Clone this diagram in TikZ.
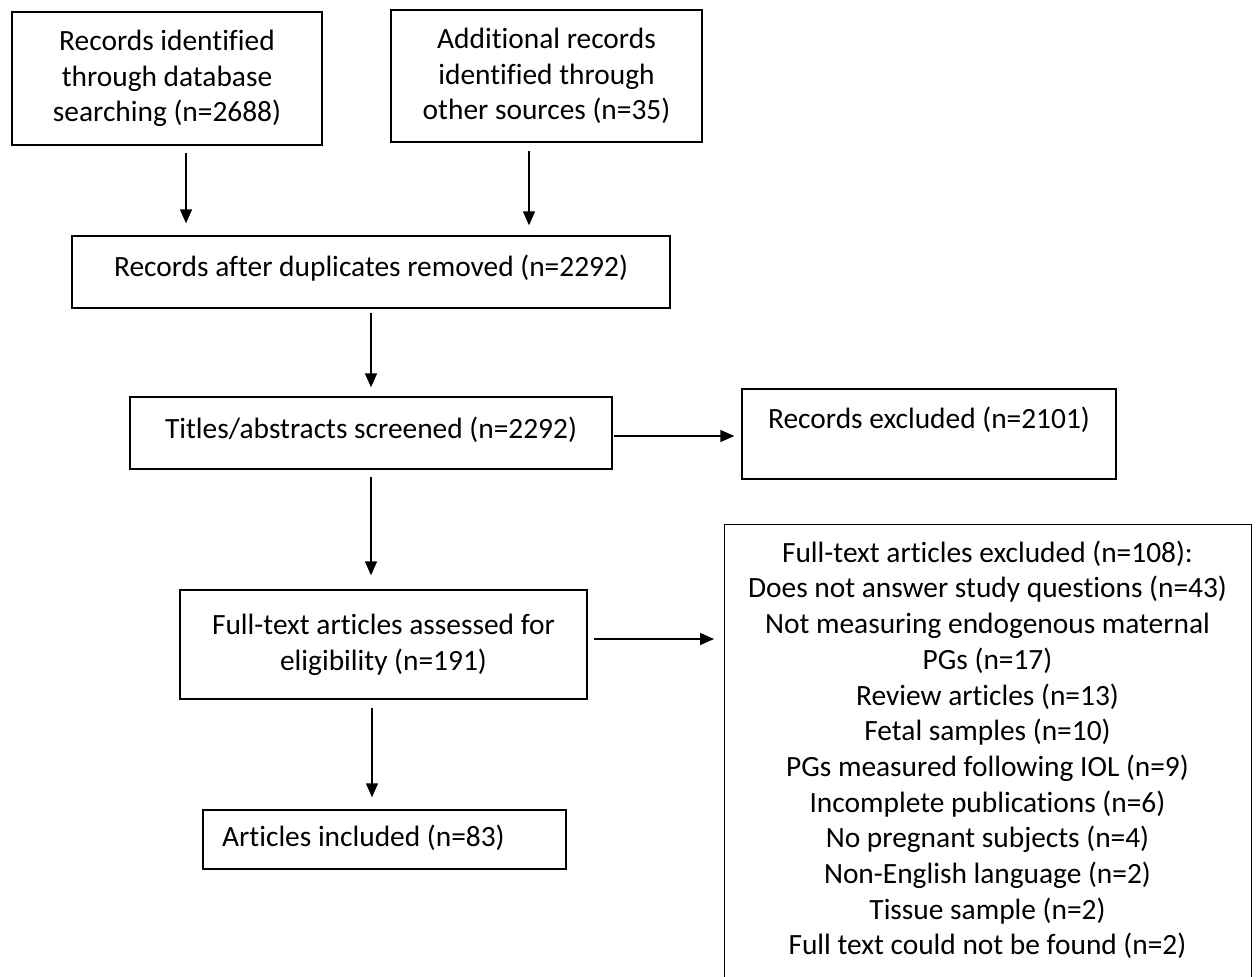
\documentclass[tikz,border=0pt]{standalone}
\usepackage{fontspec}
\setmainfont[Ligatures={NoCommon}]{Carlito}
\usetikzlibrary{arrows.meta,positioning}
\begin{document}
\begin{tikzpicture}[x=1pt,y=-1pt,
  box/.style={draw=black,line width=1.4pt,inner sep=0pt,align=center},
  txt/.style={inner sep=0pt,align=center},
  arr/.style={line width=1.4pt,-{Triangle[length=14pt,width=12pt]}},
  every node/.style={font=\fontsize{29.4}{35.7}\selectfont}]
\useasboundingbox (0,0) rectangle (1256,977);
\clip (0,0) rectangle (1256,977);
\node[box,minimum width=310pt,minimum height=133pt] (A) at (167,78.5) {Records identified\\through database\\searching (n=2688)};
\node[box,minimum width=311pt,minimum height=132pt] (B) at (546.5,76) {Additional records\\identified through\\other sources (n=35)};
\node[box,minimum width=598pt,minimum height=72pt] (C) at (371,272) {};
\node[txt] (Ct) at (371,268) {Records after duplicates removed (n=2292)};
\node[box,minimum width=482pt,minimum height=72pt] (D) at (371,433) {};
\node[txt] (Dt) at (371,430) {Titles/abstracts screened (n=2292)};
\node[box,minimum width=374pt,minimum height=90pt] (E) at (929,434) {};
\node[txt] (Et) at (929,420) {Records excluded (n=2101)};
\node[box,minimum width=407pt,minimum height=109pt] (F) at (383.5,644.5) {Full-text articles assessed for\\eligibility (n=191)};
\node[box,minimum width=363pt,minimum height=59pt] (G) at (384.5,839.5) {};
\node[txt,anchor=west] (Gt) at (222,838) {Articles included (n=83)};
\node[box,minimum width=527pt,minimum height=500pt,anchor=north west] (H) at (724,524) {};
\node[txt,anchor=north] (Ht) at (987.5,540.5) {Full-text articles excluded (n=108):\\Does not answer study questions (n=43)\\Not measuring endogenous maternal\\PGs (n=17)\\Review articles (n=13)\\Fetal samples (n=10)\\PGs measured following IOL (n=9)\\Incomplete publications (n=6)\\No pregnant subjects (n=4)\\Non-English language (n=2)\\Tissue sample (n=2)\\Full text could not be found (n=2)};
\draw[arr,shorten <=7pt,shorten >=12pt] ([xshift=19pt]A.south) -- ([xshift=19pt]A.south |- C.north);
\draw[arr,shorten <=8pt,shorten >=10pt] ([xshift=-17.5pt]B.south) -- ([xshift=-17.5pt]B.south |- C.north);
\draw[arr,shorten <=4pt,shorten >=9pt] (C.south) -- (C.south |- D.north);
\draw[arr,shorten <=1pt,shorten >=7pt] ([yshift=-3pt]D.east) -- ([yshift=-3pt]D.east -| E.west);
\draw[arr,shorten <=7pt,shorten >=14pt] (D.south) -- (D.south |- F.north);
\draw[arr,shorten <=8pt,shorten >=12pt] ([xshift=-11.5pt]F.south) -- ([xshift=-11.5pt]F.south |- G.north);
\draw[arr,shorten <=6pt,shorten >=10pt] ([yshift=5.5pt]F.east) -- ([yshift=5.5pt]F.east -| H.west);
\end{tikzpicture}
\end{document}
